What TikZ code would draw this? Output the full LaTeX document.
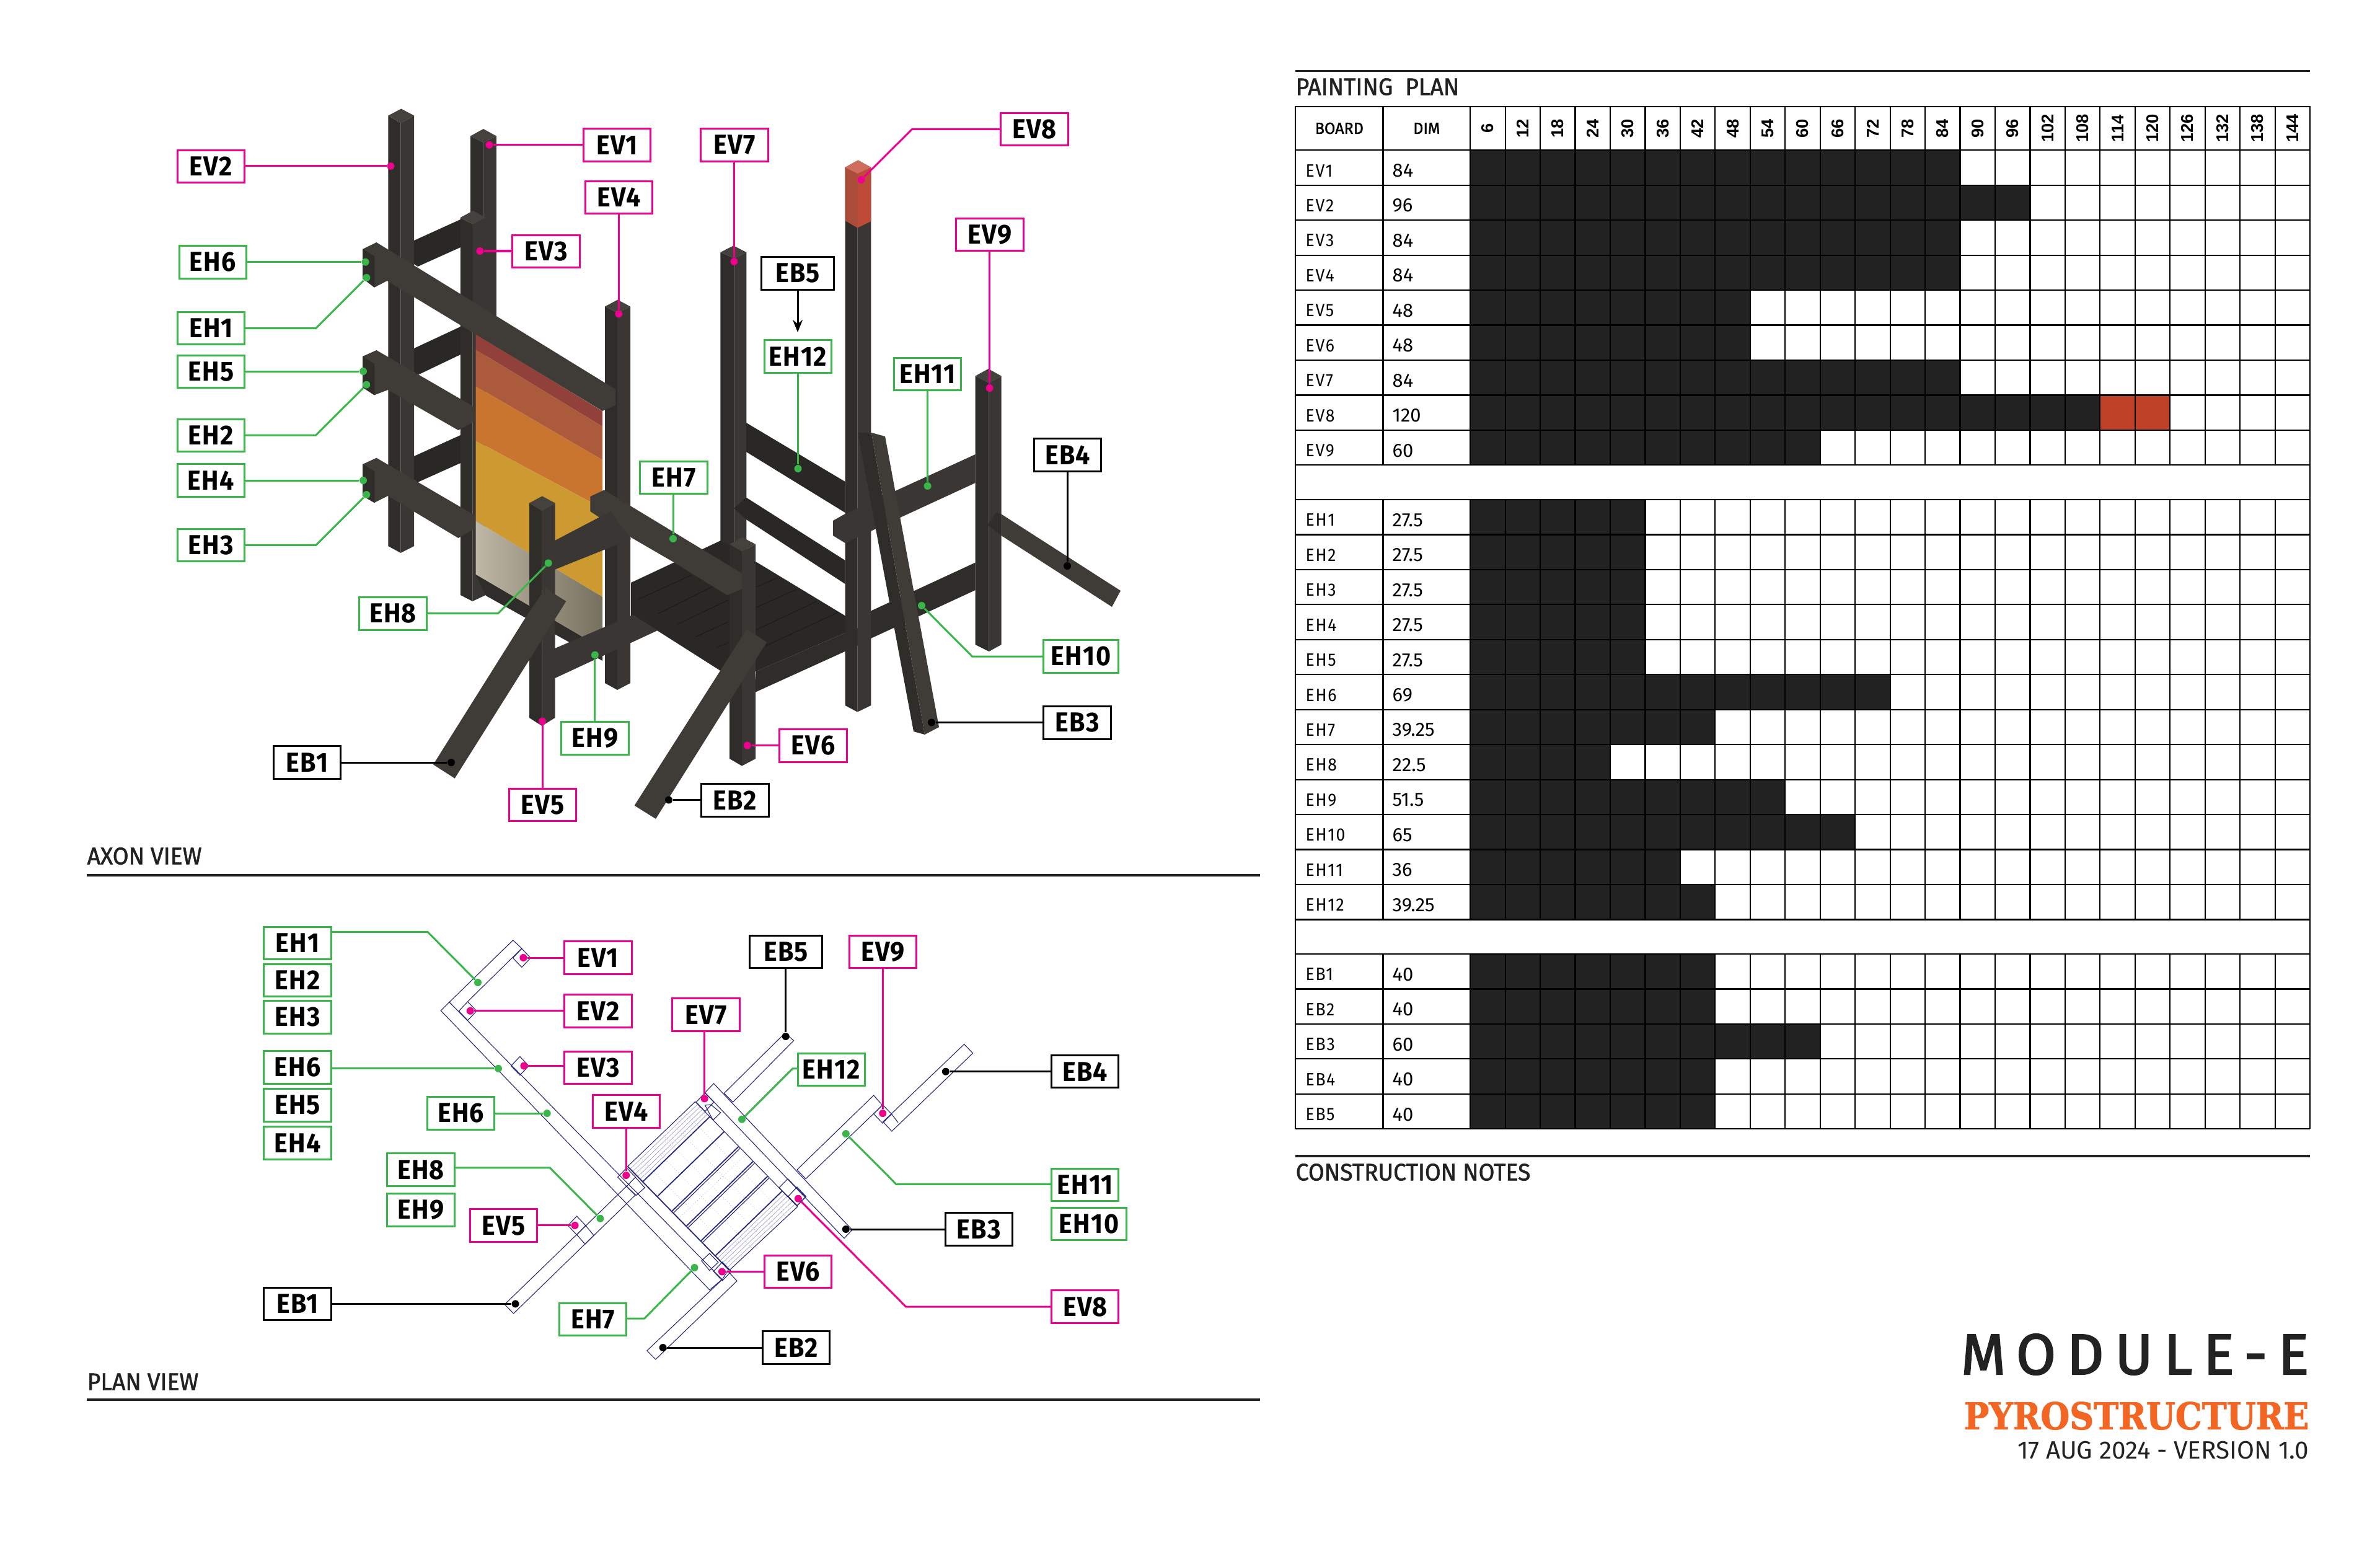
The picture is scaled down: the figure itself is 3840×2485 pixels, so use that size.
\documentclass[tikz,border=0pt]{standalone}
\usepackage{fontspec}
\setmainfont{Fira Sans}
\newfontfamily\tagfont[FakeStretch=.93,LetterSpace=3]{Fira Sans}
\newfontfamily\headfont[FakeStretch=.965,FakeBold=1.5]{Fira Sans}
\newfontfamily\rowfont[LetterSpace=6,FakeStretch=.92]{Fira Sans}
\newfontfamily\dimfont{Fira Sans}
\newfontfamily\colfont{Liberation Sans}
\newfontfamily\modfont[LetterSpace=19,FakeBold=2.2]{Fira Sans}
\newfontfamily\pyrofont[FakeStretch=.9,FakeBold=1.5]{DejaVu Serif}
\newfontfamily\datefont{Fira Sans}
\usetikzlibrary{arrows.meta,calc}
\definecolor{tagmag}{HTML}{EC008C}
\definecolor{taggreen}{HTML}{39B54A}
\definecolor{woodL}{HTML}{2F2D2A}
\definecolor{woodR}{HTML}{393633}
\definecolor{woodB}{HTML}{3F3B37}
\definecolor{woodT}{HTML}{45413C}
\definecolor{woodD}{HTML}{2A2825}
\definecolor{woodLine}{HTML}{1C1B19}
\definecolor{cellblack}{HTML}{222222}
\definecolor{cellred}{HTML}{BF4125}
\definecolor{planblue}{HTML}{26267A}
\definecolor{planfaint}{HTML}{A0A0CE}
\definecolor{pyro}{HTML}{F26522}
\tikzset{
  tagbox/.style={rectangle,fill=white,line width=.03cm,minimum width=1.08cm,minimum height=.525cm,inner sep=0pt,font=\tagfont\bfseries\fontsize{12.6}{14}\selectfont},
  tagv/.style={tagbox,draw=tagmag},
  tagh/.style={tagbox,draw=taggreen},
  tagb/.style={tagbox,draw=black},
  dotbase/.style={circle,minimum size=.12cm,inner sep=0pt},
  dotv/.style={dotbase,fill=tagmag},
  doth/.style={dotbase,fill=taggreen},
  dotb/.style={dotbase,fill=black},
  leadv/.style={draw=tagmag,line width=.03cm},
  leadh/.style={draw=taggreen,line width=.03cm},
  leadb/.style={draw=black,line width=.03cm},
  rule/.style={draw=cellblack,line width=.035cm},
  heading/.style={anchor=west,inner sep=0pt,text=cellblack,font=\headfont\fontsize{11}{13}\selectfont},
  planline/.style={draw=planblue,line width=.011cm},
  plandark/.style={draw=planblue,line width=.018cm},
  planhint/.style={draw=planfaint,line width=.007cm},
  gridline/.style={draw=black,line width=.022cm},
}
\newcommand{\postbar}[8]{
  \fill[woodL] (#1,#5) -- (#2,#6) -- (#2,#8) -- (#1,#7) -- cycle;
  \fill[woodR] (#2,#6) -- (#3,#5) -- (#3,#7) -- (#2,#8) -- cycle;
  \fill[woodT] (#1,#5) -- ({(#1+#3)/2},#4) -- (#3,#5) -- (#2,#6) -- cycle;
}
\newcommand{\paintrows}[2]{
  \foreach \n/\d/\c [count=\i from 0] in {#2} {
    \pgfmathsetmacro\rowy{#1+\i*56.45}
    \fill[cellblack] (2372.2,\rowy) rectangle ++(\c*56.45,56.45);
    \node[anchor=west,inner sep=0pt,font=\rowfont\fontsize{8.2}{10}\selectfont] (t\n) at (2106,\rowy+33) {\n};
    \node[anchor=west,inner sep=0pt,font=\dimfont\fontsize{8.8}{10}\selectfont] (d\n) at (2246,\rowy+33) {\d};
  }
}
\newcommand{\gridrows}[2]{
  \foreach \i in {0,...,#2} \draw[gridline] (2090,#1+\i*56.45) -- (3727,#1+\i*56.45);
  \foreach \x in {2090,2231.5,3727} \draw[gridline] (\x,#1) -- (\x,#1+#2*56.45);
  \foreach \i in {0,...,23} \draw[gridline] (2372.2+\i*56.45,#1) -- (2372.2+\i*56.45,#1+#2*56.45);
}
\begin{document}
\begin{tikzpicture}[x=.01cm,y=-.01cm]
  \useasboundingbox (0,0) rectangle (3840,2485);

  \postbar{626.3}{646.4}{668.2}{175.5}{186.5}{198.5}{881}{892}
  \fill[woodD] (668,388) -- (743,354) -- (743,399) -- (674,430) -- (668,426) -- cycle;
  \fill[woodD] (668,562) -- (743,527) -- (743,572) -- (674,605) -- (668,600) -- cycle;
  \fill[woodD] (668,736) -- (743,702) -- (743,747) -- (674,778) -- (668,774) -- cycle;
  \postbar{759}{779.6}{800.9}{208}{219.5}{229.8}{520}{530}
  \postbar{742.9}{762.4}{783.6}{340}{351}{362}{960}{970}
  \fill[woodL] (767,926) -- (972,1046) -- (972,1066) -- (784,961) -- cycle;
  \fill[color={rgb,255:red,145;green,64;blue,58}] (767.6,539) -- (972,663.4) -- (972,688) -- (767.6,564) -- cycle;
  \fill[color={rgb,255:red,171;green,90;blue,60}] (767.6,564) -- (972,688) -- (972,742) -- (767.6,623) -- cycle;
  \fill[color={rgb,255:red,201;green,117;blue,47}] (767.6,623) -- (972,742) -- (972,820) -- (767.6,711) -- cycle;
  \fill[color={rgb,255:red,204;green,154;blue,48}] (767.6,711) -- (972,820) -- (972,963) -- (767.6,840.5) -- cycle;
  \shade[left color={rgb,255:red,191;green,183;blue,165},right color={rgb,255:red,118;green,112;blue,95}] (767.6,840.5) -- (972,963) -- (972,1046) -- (767.6,926.7) -- cycle;
  \postbar{976}{996}{1017}{483.6}{494.5}{504.6}{1102}{1113}
  \fill[woodB] (585,402) -- (607.4,391) -- (993,628) -- (993,654) -- (972,663) -- (624.6,453) -- (604,463.7) -- (585,449) -- cycle;
  \fill[woodB] (585,575) -- (607.4,565) -- (766,657) -- (766,680) -- (739.4,694) -- (625.8,629) -- (604,637.4) -- (585,625) -- cycle;
  \fill[woodB] (585,749) -- (607.4,738.7) -- (766.4,831.6) -- (766.4,852) -- (739.4,868) -- (625.8,800) -- (604,811) -- (585,800) -- cycle;
  \fill[woodL] (585,402) -- (604,413) -- (604,463.7) -- (585,449) -- cycle;
  \fill[woodL] (585,575) -- (604,587) -- (604,637.4) -- (585,625) -- cycle;
  \fill[woodL] (585,749) -- (604,760) -- (604,811) -- (585,800) -- cycle;

  \postbar{1162.4}{1184.4}{1204.3}{396.3}{407}{416.6}{900}{910}
  \fill[woodD] (1204,682) -- (1363.5,777) -- (1363.5,827) -- (1204,729) -- cycle;
  \fill[woodD] (1184,820) -- (1204,802.6) -- (1363.5,904) -- (1363.5,942) -- (1204,838) -- cycle;
  \fill[woodD] (1018,940) -- (1163,872) -- (1363,993) -- (1382,1013) -- (1220,1083) -- (1178,1092) -- (1060,1017) -- (1018,995) -- cycle;
  \foreach \ax/\ay/\bx/\by in {1030/967/1115/928,1062/990/1148/947,1093/1007/1175/968,1123/1027/1175/1003,1157/1044/1175/1037,1220/947/1255/932,1220/980/1287/950,1218/1017/1318/970,1235/1042/1352/988}
    \draw[woodLine,line width=.01cm] (\ax,\ay) -- (\bx,\by);
  \fill[woodL] (1220,1083) -- (1382,1013) -- (1405,1015) -- (1405,1032) -- (1218,1117) -- cycle;
  \postbar{1363.5}{1383.4}{1405.3}{258.5}{270}{280}{1138}{1148.6}
  \fill[color={rgb,255:red,169;green,76;blue,58}] (1363.5,270) -- (1383.4,280) -- (1383.4,367.6) -- (1363.5,356) -- cycle;
  \fill[color={rgb,255:red,190;green,74;blue,56}] (1383.4,280) -- (1405.3,270) -- (1405.3,357) -- (1383.4,367.6) -- cycle;
  \fill[color={rgb,255:red,208;green,110;blue,94}] (1363.5,270) -- (1384.4,258.5) -- (1405.3,270) -- (1383.4,280) -- cycle;
  \fill[woodR] (1344,840) -- (1363.5,829) -- (1573.7,733) -- (1573.7,779) -- (1363.5,876) -- (1344,864) -- cycle;
  \fill[woodL] (1405,985.6) -- (1573.7,907.5) -- (1573.7,952) -- (1405,1030) -- cycle;
  \postbar{1573.7}{1595.6}{1615.5}{595}{606.5}{617.5}{1040}{1051}
  \fill[woodB] (1615.5,829.4) -- (1808,953) -- (1794,979) -- (1615.5,864) -- cycle;
  \fill[woodL] (1594,847) -- (1607,827) -- (1615.5,829.4) -- (1615.5,864) -- cycle;

  \postbar{1177.2}{1197}{1219}{867}{878}{889.6}{1224}{1235.6}
  \fill[woodB] (952.4,801) -- (974.8,790.5) -- (1197,925) -- (1197,950) -- (1173,960) -- (1087,907) -- (1018,867) -- (972,838) -- (952.4,825) -- cycle;
  \postbar{854}{874.3}{895.5}{800.4}{811.5}{823.6}{1158}{1171}
  \fill[woodR] (874.3,883) -- (985,825) -- (1018,869.6) -- (895.5,918.7) -- cycle;
  \fill[woodR] (874.3,1055) -- (1021,992) -- (1061,1017) -- (895.5,1094) -- cycle;
  \fill[woodB] (880,949) -- (913.4,970) -- (733.7,1255.7) -- (699,1233.4) -- (847,997.7) -- cycle;
  \fill[woodB] (1205,1014.6) -- (1237,1036) -- (1058,1321) -- (1023.6,1299.5) -- cycle;
  \fill[woodL] (1384,698) -- (1406,698) -- (1492,1185) -- (1474,1180) -- cycle;
  \fill[woodB] (1406,698) -- (1428,704) -- (1515,1173) -- (1492,1185) -- cycle;

  \foreach \n/\x/\y in {EV1/995.5/234,EV2/340.5/268.5,EV3/881/405.5,EV4/998.5/318.5,EV5/875.5/1298.5,EV6/1312/1203,EV7/1185/234,EV8/1669/208.5,EV9/1597/378.5}
    \node[tagv] (a\n) at (\x,\y) {\n};
  \foreach \n/\x/\y in {EH1/340.5/529.5,EH2/340.5/702.5,EH3/340.5/879.5,EH4/340.5/775,EH5/340.5/599.5,EH6/343.5/423,EH7/1087/770.5,EH8/634/990,EH9/960/1191,EH11/1496.5/603.5,EH12/1287.5/575}
    \node[tagh] (a\n) at (\x,\y) {\n};
  \node[tagh,minimum width=1.21cm] (aEH10) at (1744,1059) {EH10};
  \foreach \n/\x/\y in {EB1/495.5/1230,EB2/1186/1291,EB3/1738/1166,EB4/1722.5/734}
    \node[tagb] (a\n) at (\x,\y) {\n};
  \node[tagb,minimum width=1.16cm] (aEB5) at (1287,441) {EB5};

  \foreach \n/\x/\y in {EV1/789.4/233.7,EV2/630.4/268,EV3/774.4/405,EV4/998.3/506.5,EV5/875/1163.7,EV6/1205.8/1202.6,EV7/1184.4/422,EV8/1389.5/290,EV9/1596.6/626}
    \node[dotv] (a\n d) at (\x,\y) {};
  \foreach \n/\x/\y in {EH1/591.3/448,EH2/591.3/620.6,EH3/591.3/798,EH4/586/775,EH5/586/599,EH6/589.6/422.7,EH7/1086/869,EH8/884.7/908.4,EH9/959.9/1056.6,EH10/1487/977,EH11/1496.6/784,EH12/1287.5/756}
    \node[doth] (a\n d) at (\x,\y) {};
  \foreach \n/\x/\y in {EB1/728/1230,EB2/1079/1290.5,EB3/1503/1165.5,EB4/1722/913}
    \node[dotb] (a\n d) at (\x,\y) {};

  \foreach \n/\a in {EV1/west,EV2/east,EV3/west,EV6/west}
    \draw[leadv] (a\n d) -- (a\n d -| a\n.\a);
  \foreach \n/\a in {EV4/south,EV5/north,EV7/south,EV9/south}
    \draw[leadv] (a\n d) -- (a\n d |- a\n.\a);
  \foreach \n/\a in {EH4/east,EH5/east,EH6/east}
    \draw[leadh] (a\n d) -- (a\n d -| a\n.\a);
  \foreach \n/\a in {EH7/south,EH9/north,EH11/south,EH12/south}
    \draw[leadh] (a\n d) -- (a\n d |- a\n.\a);
  \foreach \n/\a in {EB1/east,EB2/west,EB3/west}
    \draw[leadb] (a\n d) -- (a\n d -| a\n.\a);
  \draw[leadb] (aEB4d) -- (aEB4d |- aEB4.south);
  \foreach \n/\a/\x/\y in {EH1/east/509.8/529.5,EH2/east/509.8/702,EH3/east/509.8/879.4,EH8/east/803.7/989.6,EH10/west/1568.6/1059} {
    \coordinate (a\n v) at (\x,\y);
    \draw[leadh] (a\n d) -- (a\n v) -- (a\n v -| a\n.\a);
  }
  \coordinate (aEV8v) at (1471.6,208.4);
  \draw[leadv] (aEV8d) -- (aEV8v) -- (aEV8v -| aEV8.west);
  \coordinate (aEB5tip) at (1287,536);
  \draw[leadb,-{Stealth[length=.2cm,width=.16cm]}] (aEB5.south) -- (aEB5tip);

  \node[heading] (axontitle) at (140,1381) {AXON VIEW};
  \draw[rule] (140,1412) -- (2033,1412);
  \node[heading] (plantitle) at (140,2229) {PLAN VIEW};
  \draw[rule] (140,2258) -- (2033,2258);

  \draw[planline] (711.2,1630.3) -- (1144.9,2081) -- (1165,2064) -- (725,1616.7) -- cycle;
  \draw[planline] (725,1616.7) -- (827.6,1516.8) -- (841.8,1530) -- (754.6,1615.7);
  \draw[planline] (1137.5,1762.6) -- (1151.5,1748) -- (1374.9,1984) -- (1362,1997.7) -- cycle;
  \draw[planline] (814.3,2104.3) -- (1010.7,1913.8) -- (1025,1928) -- (828.6,2119) -- cycle;
  \draw[planline] (1043.8,2179) -- (1165.5,2064) -- (1174,2050) -- (1189,2066.5) -- (1057.8,2193) -- cycle;
  \draw[planline] (1266.5,1666.6) -- (1280.6,1678.7) -- (1182.4,1778) -- (1168.3,1763.6) -- cycle;
  \draw[planline] (1409.6,1767) -- (1423.7,1783) -- (1300,1901.7) -- (1286,1887) -- cycle;
  \draw[planline] (1555.6,1684.6) -- (1569.6,1699) -- (1438.8,1825) -- (1424.8,1809.6) -- cycle;
  \foreach \cx/\cy in {841.8/1545.4,754.6/1631,838.8/1719.5,1011/1899,930.6/1977,1165.5/2051,1137.5/1778,1286/1930,1424/1797}
    \draw[planline] (\cx-14.3,\cy) -- (\cx,\cy-15) -- (\cx+14.3,\cy) -- (\cx,\cy+15) -- cycle;
  \draw[planline] (1025,1899) -- (1040.3,1916) -- (1026.5,1928.4) -- (1010.7,1913.8);
  \draw[planline] (930.6,1992) -- (944,2007) -- (958,1993) -- (944.9,1977);
  \draw[planline] (1137.5,1783) -- (1147,1782) -- (1162.7,1795) -- (1150.4,1807) -- cycle;
  \draw[planline] (1131.9,2034) -- (1144.8,2022) -- (1158.8,2036.5) -- (1144.8,2049.5) -- cycle;
  \draw[planline] (1257,1916) -- (1271,1901.7) -- (1300,1931) -- (1286,1945) -- cycle;
  \draw[planline] (1424.8,1809.6) -- (1438.8,1797.5) -- (1449,1811);

  \coordinate (deckw) at (1012.7,1881.7);
  \coordinate (deckn) at (1121.7,1777.3);
  \coordinate (decke) at (1286.7,1946.7);
  \coordinate (decks) at (1176.7,2049.3);
  \coordinate (sa) at (1036.7,1906.7);
  \coordinate (sb) at (1153.3,2026.7);
  \coordinate (ea) at (1145,1801.7);
  \coordinate (eb) at (1261.7,1921.7);
  \foreach \i in {1,...,5} {
    \draw[planhint] ($(deckw)!\i/6!(sa)$) -- ($(deckn)!\i/6!(ea)$);
    \draw[planhint] ($(sb)!\i/6!(decks)$) -- ($(eb)!\i/6!(decke)$);
  }
  \foreach \f in {.16,.34,.5,.66,.84} {
    \draw[planhint,densely dotted] ($(deckw)!\f!(deckn)$) -- ($(decks)!\f!(decke)$);
  }
  \foreach \f in {.1,.5,.9} {
    \draw[planhint,densely dotted] ($(deckw)!\f!(decks)$) -- ($(deckn)!\f!(decke)$);
  }
  \draw[planline] (deckw) -- (deckn);
  \draw[planline] (decks) -- (decke);
  \draw[planline] (deckn) -- (decke);
  \draw[plandark] (deckw) -- (decks);
  \foreach \i in {0,...,5} {
    \draw[plandark] ($(sa)!\i/5!(sb)$) -- ($(ea)!\i/5!(eb)$);
  }
  \foreach \i in {2,3,4} {
    \draw[planline] ($(sa)!\i/5+.022!(sb)$) -- ($(ea)!\i/5+.022!(eb)$);
  }

  \foreach \n/\x/\y in {EV1/965/1545,EV2/965/1630.8,EV3/965/1722.4,EV4/1010.4/1793,EV5/812.5/1977,EV6/1287.7/2051.5,EV7/1139/1637,EV8/1750.7/2108.2,EV9/1424.7/1535.7}
    \node[tagv] (p\n) at (\x,\y) {\n};
  \foreach \n/\x/\y in {EH1/480/1521.4,EH2/480/1581.5,EH3/480/1641,EH4/480/1844,EH5/480/1783,EH6/480/1722,EH7/956.6/2128.6,EH8/679/1887.2,EH9/679/1952,EH11/1750.7/1911.4,EH12/1341.5/1725.3}
    \node[tagh] (p\n) at (\x,\y) {\n};
  \node[tagh] (pEH6b) at (743.7,1796) {EH6};
  \node[tagh,minimum width=1.21cm] (pEH10) at (1757,1974.4) {EH10};
  \foreach \n/\x/\y in {EB1/480/2103.4,EB2/1284.5/2174,EB3/1579.5/1983,EB4/1750.7/1728.7}
    \node[tagb] (p\n) at (\x,\y) {\n};
  \node[tagb,minimum width=1.16cm] (pEB5) at (1268,1535.7) {EB5};

  \foreach \n/\x/\y in {EV1/844.4/1545,EV2/758.7/1630.8,EV3/845.4/1719.5,EV4/1010.2/1896,EV5/927.6/1976.9,EV6/1165/2051.5,EV7/1136.7/1772.3,EV8/1287.9/1933.7,EV9/1424.2/1796}
    \node[dotv] (p\n d) at (\x,\y) {};
  \foreach \n/\x/\y in {EH1/771/1585,EH6/804/1723.8,EH6b/882.7/1796,EH7/1120.5/2045,EH8/968.4/1965.7,EH11/1364.8/1829,EH12/1197/1805.7}
    \node[doth] (p\n d) at (\x,\y) {};
  \foreach \n/\x/\y in {EB1/831.6/2103.4,EB2/1069.6/2174,EB3/1364.8/1983,EB4/1525.8/1728.7,EB5/1267.7/1672}
    \node[dotb] (p\n d) at (\x,\y) {};

  \foreach \n/\a in {EV1/west,EV2/west,EV3/west,EV5/east,EV6/west}
    \draw[leadv] (p\n d) -- (p\n d -| p\n.\a);
  \foreach \n/\a in {EV4/south,EV7/south,EV9/south}
    \draw[leadv] (p\n d) -- (p\n d |- p\n.\a);
  \foreach \n/\a in {EH6/east,EH6b/east}
    \draw[leadh] (p\n d) -- (p\n d -| p\n.\a);
  \foreach \n/\a in {EB1/east,EB2/west,EB3/west,EB4/west}
    \draw[leadb] (p\n d) -- (p\n d -| p\n.\a);
  \draw[leadb] (pEB5d) -- (pEB5d |- pEB5.south);
  \foreach \n/\a/\x/\y in {EH1/east/689.8/1503.3,EH7/east/1039.8/2127,EH8/east/887.2/1883.8,EH11/west/1446/1910.4,EH12/west/1279/1723.8} {
    \coordinate (p\n v) at (\x,\y);
    \draw[leadh] (p\n d) -- (p\n v) -- (p\n v -| p\n.\a);
  }
  \coordinate (pEV8v) at (1461.8,2108.2);
  \draw[leadv] (pEV8d) -- (pEV8v) -- (pEV8v -| pEV8.west);

  \draw[rule] (2090,114.3) -- (3727,114.3);
  \node[heading] (painttitle) at (2090,140) {PAINTING\ \ PLAN};
  \paintrows{242.3}{EV1/84/14,EV2/96/16,EV3/84/14,EV4/84/14,EV5/48/8,EV6/48/8,EV7/84/14,EV8/120/18,EV9/60/10}
  \fill[cellred] (2372.2+18*56.45,242.3+7*56.45) rectangle ++(2*56.45,56.45);
  \paintrows{806}{EH1/27.5/5,EH2/27.5/5,EH3/27.5/5,EH4/27.5/5,EH5/27.5/5,EH6/69/12,EH7/39.25/7,EH8/22.5/4,EH9/51.5/9,EH10/65/11,EH11/36/6,EH12/39.25/7}
  \paintrows{1539}{EB1/40/7,EB2/40/7,EB3/60/10,EB4/40/7,EB5/40/7}
  \gridrows{242.3}{9}
  \gridrows{806}{12}
  \gridrows{1539}{5}
  \draw[gridline] (2090,171.7) rectangle (3727,242.3);
  \draw[gridline] (2090,750.35) -- (2090,806);
  \draw[gridline] (3727,750.35) -- (3727,806);
  \draw[gridline] (2090,1483.4) -- (2090,1539);
  \draw[gridline] (3727,1483.4) -- (3727,1539);
  \draw[gridline] (2231.5,171.7) -- (2231.5,242.3);
  \foreach \i in {0,...,23} \draw[gridline] (2372.2+\i*56.45,171.7) -- (2372.2+\i*56.45,242.3);
  \node[inner sep=0pt,font=\headfont\fontsize{7.4}{8}\selectfont] (boardcol) at (2160.8,207) {BOARD};
  \node[inner sep=0pt,font=\headfont\fontsize{7.4}{8}\selectfont] (dimcol) at (2301.8,207) {DIM};
  \foreach \i in {1,...,24} {
    \pgfmathtruncatemacro\colval{6*\i}
    \node[rotate=90,inner sep=0pt,font=\colfont\bfseries\fontsize{7.8}{9}\selectfont] (col\i) at (2372.2+\i*56.45-28.2,207) {\colval};
  }

  \draw[rule] (2090,1865) -- (3727,1865);
  \node[heading] (notestitle) at (2090,1891) {CONSTRUCTION NOTES};
  \node[anchor=east,inner sep=0pt,text=cellblack,font=\modfont\fontsize{26.4}{30}\selectfont] (module) at (3726,2185) {MODULE-E};
  \node[anchor=east,inner sep=0pt,text=pyro,font=\pyrofont\bfseries\fontsize{17}{20}\selectfont] (brand) at (3726,2284) {PYROSTRUCTURE};
  \node[anchor=east,inner sep=0pt,text=cellblack,font=\datefont\fontsize{11.5}{14}\selectfont] (version) at (3726,2340) {17 AUG 2024 - VERSION 1.0};
\end{tikzpicture}
\end{document}
